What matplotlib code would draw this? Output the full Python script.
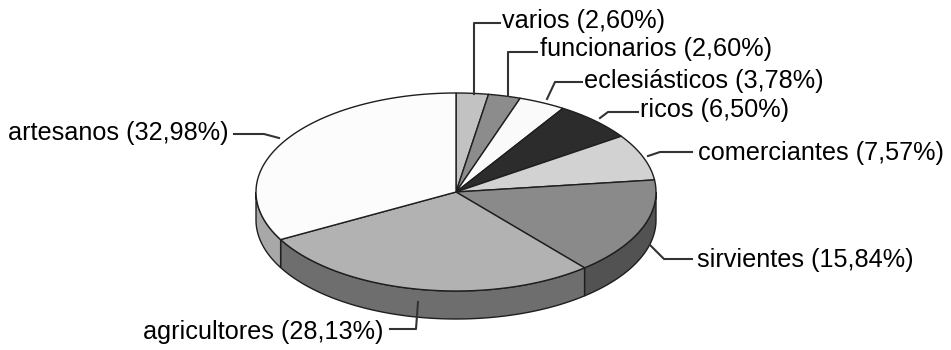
import matplotlib.pyplot as plt
import numpy as np
from matplotlib.patches import Polygon

# datos (porcentajes, en sentido horario desde las 12)
categorias = ["varios", "funcionarios", "eclesiásticos", "ricos",
              "comerciantes", "sirvientes", "agricultores", "artesanos"]
porcentajes = [2.60, 2.60, 3.78, 6.50, 7.57, 15.84, 28.13, 32.98]
etiquetas = ["varios (2,60%)", "funcionarios (2,60%)", "eclesiásticos (3,78%)",
             "ricos (6,50%)", "comerciantes (7,57%)", "sirvientes (15,84%)",
             "agricultores (28,13%)", "artesanos (32,98%)"]

col_top = ["#c2c2c2", "#8c8c8c", "#fafafa", "#2c2c2c",
           "#d2d2d2", "#8a8a8a", "#b2b2b2", "#fcfcfc"]
col_side = ["#909090", "#606060", "#c0c0c0", "#1a1a1a",
            "#a0a0a0", "#525252", "#6e6e6e", "#a8a8a8"]

# geometria de la tarta en pixeles
cx, cy, rx, ry, depth = 456, 192, 200, 99, 28
edge = "#1e1e1e"


def pt(theta, dy=0.0):
    t = np.radians(theta)
    return cx + rx * np.sin(t), cy - ry * np.cos(t) + dy


def arc(a, b, dy=0.0, n=80):
    th = np.linspace(a, b, n)
    return np.column_stack(pt(th, dy))


fig = plt.figure(figsize=(9.51, 3.5), dpi=100)
ax = fig.add_axes([0, 0, 1, 1])
ax.set_xlim(0, 951)
ax.set_ylim(350, 0)
ax.axis("off")

angles = np.concatenate([[0], np.cumsum(porcentajes) / sum(porcentajes) * 360])

# lados visibles (mitad delantera, 90..270 grados)
for i in range(len(porcentajes)):
    a, b = max(angles[i], 90), min(angles[i + 1], 270)
    if b <= a:
        continue
    top = arc(a, b)
    bot = arc(b, a, depth)
    ax.add_patch(Polygon(np.vstack([top, bot]), closed=True, facecolor=col_side[i],
                         edgecolor=edge, linewidth=1.0, zorder=1))

# caras superiores
for i in range(len(porcentajes)):
    verts = np.vstack([[cx, cy], arc(angles[i], angles[i + 1])])
    ax.add_patch(Polygon(verts, closed=True, facecolor=col_top[i],
                         edgecolor=edge, linewidth=1.0, zorder=2))

# posiciones de las etiquetas y lineas guia
text_pos = [(502, 21), (540, 49), (584, 81), (640, 110),
            (698, 153), (697, 260), (143, 332), (8, 133)]
leaders = [
    [(474, 94), (474, 23), (500, 23)],
    [(508, 96), (508, 52), (537, 52)],
    [(547, 99), (555, 82), (582, 82)],
    [(600, 118), (608, 112), (638, 112)],
    [(648, 156), (660, 152), (692, 152)],
    [(650, 245), (664, 259), (692, 259)],
    [(418, 302), (416, 329), (390, 329)],
    [(279, 138), (264, 134), (234, 134)],
]

for lab, (tx, ty), pts in zip(etiquetas, text_pos, leaders):
    xs, ys = zip(*pts)
    ax.plot(xs, ys, color="#333333", linewidth=1.5, zorder=3)
    ax.text(tx, ty, lab, ha="left", va="center", fontsize=18.2,
            family="Liberation Sans", color="black", zorder=4)

plt.savefig("out.png", dpi=100)
